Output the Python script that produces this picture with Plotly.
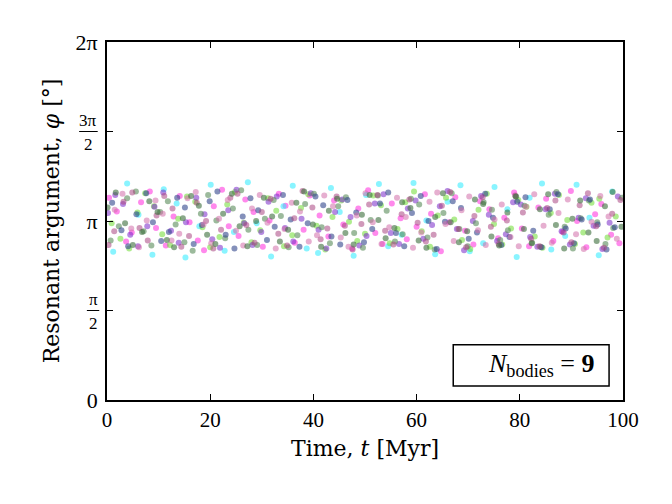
import math
import plotly.graph_objects as go

PI = math.pi

# ---- data (phi in radians, t in Myr), one series per body ----
t1 = [0.4, 1.9, 3.7, 4.8, 6.6, 8.3, 9.5, 11.4, 12.9, 14.1, 16.0, 17.6, 18.8, 20.7, 22.3, 23.6, 25.5, 26.8, 28.4, 30.2,
      31.5, 33.3, 34.6, 36.4, 38.1, 39.3, 41.2, 42.9, 44.0, 45.8, 47.5, 48.7, 50.6, 52.0, 53.4, 55.2, 56.9, 58.1, 60.0, 61.6,
      62.8, 64.7, 66.3, 67.5, 69.4, 71.0, 72.3, 74.1, 75.8, 77.0, 78.9, 80.4, 81.8, 83.6, 85.1, 86.5, 88.3, 89.9, 91.1, 92.9,
      94.6, 95.8, 97.7, 99.3]
phi1 = [3.55, 3.31, 2.78, 2.94, 3.47, 3.66, 3.02, 2.71, 3.22, 3.58, 3.12, 2.80, 2.63, 3.40, 3.69, 3.05, 2.88, 3.52, 3.30, 2.69,
        3.15, 3.62, 3.41, 2.76, 2.99, 3.59, 3.24, 2.87, 3.50, 3.08, 2.66, 3.36, 3.68, 2.93, 2.74, 3.45, 3.19, 2.82, 3.04, 3.61,
        3.27, 2.61, 3.12, 3.56, 2.97, 2.73, 3.49, 3.35, 2.84, 3.20, 3.64, 3.01, 2.70, 3.38, 3.53, 2.79, 2.95, 3.67, 3.14, 2.68,
        3.26, 3.44, 2.90, 2.75]

t2 = [1.2, 3.9, 6.1, 8.8, 11.0, 13.5, 15.2, 17.9, 20.1, 22.8, 24.6, 27.3, 29.0, 31.8, 34.2, 36.0, 38.7, 40.9, 43.4, 45.1,
      47.8, 50.2, 52.7, 54.5, 57.1, 59.4, 61.9, 63.6, 66.0, 68.5, 70.3, 72.9, 75.1, 77.6, 79.4, 81.9, 84.3, 86.1, 88.8, 91.0,
      93.5, 95.3, 97.9]
phi2 = [2.60, 3.80, 3.25, 2.55, 3.70, 3.45, 2.50, 3.05, 3.78, 2.62, 2.95, 3.82, 3.10, 2.52, 3.40, 3.76, 2.66, 2.58, 3.72, 3.30,
        2.53, 3.60, 3.79, 2.70, 2.90, 3.81, 3.15, 2.56, 3.48, 3.77, 2.61, 2.75, 3.74, 3.35, 2.51, 3.55, 3.80, 2.64, 2.88, 3.78,
        3.20, 2.54, 3.66]

t3 = [0.9, 2.6, 4.3, 5.9, 7.4, 9.1, 10.7, 12.2, 13.8, 15.5, 17.1, 18.5, 20.0, 21.8, 23.3, 24.8, 26.5, 28.0, 29.7, 31.2,
      32.8, 34.3, 35.9, 37.6, 39.0, 40.6, 42.3, 43.7, 45.4, 46.9, 48.5, 50.0, 51.6, 53.1, 54.8, 56.3, 57.8, 59.5, 61.0, 62.6,
      64.1, 65.7, 67.3, 68.8, 70.4, 72.0, 73.6, 75.0, 76.6, 78.3, 79.7, 81.3, 82.9, 84.4, 86.0, 87.6, 89.2, 90.7, 92.3, 93.9,
      95.4, 97.0, 98.6]
phi3 = [3.10, 2.83, 2.66, 3.29, 3.63, 3.40, 2.91, 2.72, 3.18, 3.57, 3.48, 3.03, 2.68, 2.86, 3.43, 3.65, 3.11, 2.77, 2.98, 3.54,
        3.32, 2.70, 2.89, 3.37, 3.61, 3.06, 2.64, 3.21, 3.50, 3.13, 2.79, 2.92, 3.59, 3.42, 2.75, 3.00, 3.47, 3.66, 2.96, 2.69,
        3.24, 3.55, 3.17, 2.81, 2.65, 3.34, 3.62, 3.09, 2.73, 3.01, 3.51, 3.39, 2.87, 2.67, 3.28, 3.60, 3.16, 2.74, 2.94, 3.46,
        3.53, 2.85, 3.22]

t4 = [0.2, 1.6, 3.1, 4.5, 6.0, 7.8, 9.2, 10.9, 12.4, 13.9, 15.3, 17.3, 18.9, 20.4, 21.9, 23.5, 25.1, 26.6, 28.2, 29.9,
      31.3, 32.9, 34.5, 36.1, 37.7, 39.5, 41.0, 42.5, 44.2, 45.6, 47.2, 48.9, 50.3, 51.9, 53.6, 55.0, 56.6, 58.3, 59.8, 61.3,
      63.0, 64.5, 66.0, 67.8, 69.2, 70.9, 72.5, 74.0, 75.6, 77.3, 78.7, 80.2, 82.0, 83.4, 85.0, 86.8, 88.1, 89.7, 91.4, 92.8,
      94.3, 96.0, 97.4, 99.0]
phi4 = [3.28, 3.60, 3.44, 2.90, 2.70, 3.05, 3.39, 3.64, 2.97, 2.76, 3.12, 3.55, 3.26, 2.82, 2.67, 3.33, 3.69, 3.10, 2.72, 2.95,
        3.48, 3.57, 3.02, 2.78, 3.18, 3.63, 2.99, 2.66, 3.30, 3.52, 3.21, 2.71, 2.88, 3.45, 3.61, 2.93, 2.74, 3.36, 3.50, 2.83,
        3.07, 3.40, 3.67, 3.00, 2.63, 3.14, 3.58, 3.25, 2.79, 2.91, 3.47, 3.43, 2.86, 2.69, 3.35, 3.62, 2.96, 2.73, 3.20, 3.54,
        3.06, 2.65, 3.11, 3.57]

t5 = [0.7, 2.3, 3.9, 5.6, 7.1, 8.6, 10.3, 11.8, 13.3, 15.0, 16.6, 18.2, 19.6, 21.2, 22.9, 24.4, 26.0, 27.4, 29.1, 30.6,
      32.3, 33.7, 35.2, 36.9, 38.4, 40.1, 41.6, 43.2, 44.8, 46.3, 47.9, 49.6, 51.1, 52.5, 54.2, 55.8, 57.3, 58.9, 60.5, 62.1,
      63.5, 65.2, 66.8, 68.3, 69.9, 71.5, 73.0, 74.6, 76.2, 77.7, 79.3, 80.9, 82.4, 84.0, 85.6, 87.1, 88.7, 90.3, 91.8, 93.4,
      95.0, 96.6, 98.1, 99.8]
phi5 = [2.80, 3.05, 3.54, 3.66, 2.96, 2.71, 3.30, 3.49, 3.08, 2.77, 2.62, 3.27, 3.60, 3.15, 2.84, 3.36, 3.68, 2.99, 2.72, 3.18,
        3.51, 3.23, 2.68, 2.89, 3.44, 3.62, 3.03, 2.75, 3.40, 3.56, 2.93, 2.67, 3.16, 3.59, 3.32, 2.78, 2.91, 3.53, 3.43, 2.85,
        2.64, 3.28, 3.63, 3.00, 2.70, 3.10, 3.47, 3.34, 2.81, 2.98, 3.57, 3.41, 2.76, 2.69, 3.25, 3.65, 3.04, 2.66, 3.19, 3.50,
        3.12, 2.74, 3.02, 3.55]

t6 = [1.0, 2.8, 4.1, 5.7, 7.6, 8.9, 10.5, 12.0, 13.6, 15.1, 16.8, 18.4, 19.9, 21.4, 23.0, 24.7, 26.3, 27.8, 29.3, 31.0,
      32.5, 34.1, 35.6, 37.3, 38.9, 40.4, 41.9, 43.5, 45.2, 46.6, 48.3, 49.8, 51.4, 52.9, 54.5, 56.0, 57.6, 59.1, 60.8, 62.3,
      63.9, 65.5, 67.0, 68.6, 70.1, 71.7, 73.3, 74.8, 76.4, 78.0, 79.5, 81.1, 82.6, 84.2, 85.8, 87.4, 88.9, 90.5, 92.0, 93.6,
      95.1, 96.8, 98.4]
phi6 = [3.46, 2.98, 2.70, 3.26, 3.63, 3.12, 2.79, 2.95, 3.55, 3.38, 2.74, 3.07, 3.49, 3.66, 2.90, 2.66, 3.22, 3.54, 3.33, 2.81,
        3.04, 3.60, 3.17, 2.69, 3.10, 3.57, 3.42, 2.87, 2.73, 3.51, 3.29, 2.77, 3.00, 3.45, 3.64, 2.93, 2.70, 3.28, 3.58, 3.14,
        2.65, 3.13, 3.49, 3.37, 2.83, 2.94, 3.62, 3.20, 2.72, 2.86, 3.48, 3.56, 2.97, 2.68, 3.35, 3.61, 3.01, 2.75, 3.17, 3.52,
        3.08, 2.64, 3.03]

t7 = [0.3, 1.4, 3.2, 4.9, 6.3, 7.9, 9.6, 11.1, 12.7, 14.4, 15.9, 17.4, 19.2, 20.6, 22.1, 23.9, 25.3, 27.0, 28.6, 30.0,
      31.7, 33.2, 34.9, 36.3, 37.9, 39.8, 41.4, 42.7, 44.5, 46.1, 47.6, 49.3, 50.8, 52.4, 53.9, 55.5, 57.1, 58.6, 60.2, 61.8,
      63.3, 64.9, 66.5, 68.1, 69.6, 71.2, 72.8, 74.4, 75.9, 77.5, 79.1, 80.6, 82.2, 83.8, 85.3, 86.9, 88.5, 90.0, 91.6, 93.2,
      94.8, 96.3, 97.9, 99.5]
phi7 = [2.72, 2.96, 3.48, 3.64, 3.02, 2.80, 3.24, 3.58, 3.36, 2.69, 2.88, 3.46, 3.14, 2.66, 2.99, 3.55, 3.62, 3.07, 2.76, 3.30,
        3.53, 2.92, 2.71, 3.19, 3.67, 3.38, 2.82, 3.01, 3.57, 3.06, 2.64, 3.09, 3.43, 3.60, 2.97, 2.73, 3.26, 3.52, 3.11, 2.78,
        2.90, 3.41, 3.65, 3.00, 2.68, 3.23, 3.56, 3.04, 2.74, 3.15, 3.59, 3.29, 2.83, 2.70, 3.37, 3.50, 2.94, 2.77, 3.42, 3.63,
        3.05, 2.67, 3.27, 3.51]

t8 = [1.5, 3.0, 4.7, 6.2, 7.7, 9.4, 10.8, 12.5, 14.0, 15.6, 17.2, 18.7, 20.2, 21.7, 23.4, 25.0, 26.4, 28.1, 29.6, 31.1,
      32.7, 34.4, 35.8, 37.4, 39.1, 40.7, 42.1, 43.8, 45.3, 46.8, 48.4, 50.1, 51.5, 53.2, 54.7, 56.2, 57.9, 59.3, 60.9, 62.5,
      64.0, 65.6, 67.2, 68.7, 70.2, 71.9, 73.4, 75.1, 76.5, 78.2, 79.8, 81.2, 82.8, 84.6, 86.2, 87.5, 89.3, 90.9, 92.4, 93.9,
      95.6, 97.2, 98.8]
phi8 = [3.34, 3.62, 3.01, 2.68, 3.15, 3.50, 3.27, 2.80, 2.92, 3.54, 3.65, 3.08, 2.75, 3.18, 3.51, 2.97, 2.71, 3.36, 3.60, 3.11,
        2.66, 3.00, 3.46, 3.31, 2.78, 2.89, 3.59, 3.40, 2.85, 2.69, 3.24, 3.63, 3.12, 2.74, 3.03, 3.55, 3.21, 2.67, 2.94, 3.48,
        3.64, 3.09, 2.79, 3.33, 3.57, 2.98, 2.72, 3.17, 3.43, 2.86, 2.70, 3.39, 3.61, 3.06, 2.76, 3.28, 3.52, 2.91, 2.65, 3.13,
        3.58, 3.22, 2.83]

t9 = [0.1, 1.7, 3.5, 5.0, 6.8, 8.2, 9.8, 11.6, 13.0, 14.7, 16.3, 17.8, 19.4, 21.0, 22.5, 24.2, 25.7, 27.2, 28.9, 30.4,
      32.0, 33.5, 35.1, 36.7, 38.2, 39.9, 41.5, 43.0, 44.6, 46.2, 47.8, 49.4, 50.9, 52.6, 54.0, 55.7, 57.2, 58.8, 60.4, 61.9,
      63.6, 65.1, 66.6, 68.2, 69.8, 71.3, 72.9, 74.5, 76.0, 77.6, 79.2, 80.8, 82.3, 83.9, 85.5, 87.0, 88.6, 90.2, 91.7, 93.3,
      94.9, 96.5, 98.0, 99.7]
phi9 = [3.38, 3.64, 3.10, 2.72, 2.95, 3.49, 3.30, 2.81, 2.68, 3.19, 3.58, 3.41, 2.90, 2.74, 3.27, 3.62, 3.05, 2.70, 3.14, 3.55,
        3.22, 2.78, 2.99, 3.46, 3.66, 3.08, 2.69, 3.32, 3.53, 2.93, 2.73, 3.25, 3.60, 3.16, 2.84, 3.02, 3.47, 3.37, 2.80, 2.67,
        3.21, 3.63, 3.12, 2.77, 2.96, 3.52, 3.44, 2.87, 2.71, 3.29, 3.57, 3.00, 2.75, 3.35, 3.61, 3.07, 2.66, 3.18, 3.50, 2.94,
        2.79, 3.40, 3.65, 3.04]

series_t = [t1, t2, t3, t4, t5, t6, t7, t8, t9]
series_phi = [phi1, phi2, phi3, phi4, phi5, phi6, phi7, phi8, phi9]
series_colors = ["rgba(255,40,220,0.55)", "rgba(40,235,255,0.55)", "rgba(110,220,50,0.55)",
                 "rgba(120,40,200,0.55)", "rgba(90,140,90,0.6)", "rgba(50,70,140,0.6)",
                 "rgba(170,70,130,0.55)", "rgba(210,110,170,0.55)", "rgba(60,110,60,0.6)"]

# y ticks: whole-multiple labels as tick text, half-multiples drawn as stacked fractions
y_major_vals = [0, PI, 2 * PI]
y_major_text = ["0", "π", "2π"]
y_frac_vals = [PI / 2, 3 * PI / 2]
y_frac_num = ["π", "3π"]
y_frac_den = ["2", "2"]
x_tickvals = [0, 20, 40, 60, 80, 100]
n_bodies = 9

FONT = "Liberation Serif"
TITLE_FONT = "DejaVu Serif"

fig = go.Figure()
for t, phi, c in zip(series_t, series_phi, series_colors):
    n = min(len(t), len(phi))
    fig.add_trace(go.Scatter(x=t[:n], y=phi[:n], mode="markers",
                             marker=dict(size=6, color=c, line=dict(width=0)),
                             showlegend=False, hoverinfo="skip"))

axis_common = dict(showline=True, linecolor="black", linewidth=1.8, mirror="ticks",
                   ticks="inside", ticklen=6, tickwidth=1, tickcolor="black",
                   showgrid=False, zeroline=False)

fig.update_xaxes(range=[0, 100], tickvals=x_tickvals,
                 tickfont=dict(family=FONT, size=21, color="black"),
                 title=dict(text="Time, <i>t</i> [Myr]", font=dict(family=TITLE_FONT, size=22, color="black"),
                            standoff=10),
                 **axis_common)
fig.update_yaxes(range=[0, 2 * PI], tickvals=y_major_vals, ticktext=y_major_text,
                 tickfont=dict(family=FONT, size=22, color="black"), ticklabelstandoff=3,
                 minor=dict(tickvals=y_frac_vals, ticks="inside", ticklen=6, tickwidth=1, tickcolor="black",
                            showgrid=False),
                 title=dict(text="Resonant argument, <i>φ</i> [°]", font=dict(family=TITLE_FONT, size=22, color="black"),
                            standoff=10),
                 **axis_common)

# stacked fraction labels
for yv, num, den in zip(y_frac_vals, y_frac_num, y_frac_den):
    xc = -0.036 if len(num) > 1 else -0.027
    half = 0.018 if len(num) > 1 else 0.012
    fig.add_annotation(xref="paper", yref="y", x=xc, y=yv, text=num, showarrow=False,
                       xanchor="center", yanchor="bottom", yshift=0,
                       font=dict(family=FONT, size=17, color="black"))
    fig.add_annotation(xref="paper", yref="y", x=xc, y=yv, text=den, showarrow=False,
                       xanchor="center", yanchor="top", yshift=-1,
                       font=dict(family=FONT, size=17, color="black"))
    fig.add_shape(type="line", xref="paper", yref="y", x0=xc - half, x1=xc + half, y0=yv, y1=yv,
                  line=dict(color="black", width=1))

fig.add_shape(type="rect", xref="paper", yref="paper", x0=0.671, x1=0.973, y0=0.039, y1=0.154,
              line=dict(color="black", width=1.5), fillcolor="white", layer="above")
fig.add_annotation(xref="paper", yref="paper", x=0.843, y=0.098, xanchor="center", yanchor="middle",
                   text="<i>N</i><sub>bodies</sub> = <b>%d</b>" % n_bodies, showarrow=False,
                   font=dict(family=FONT, size=26, color="black"))

fig.update_layout(width=672, height=504, margin=dict(l=107, r=49, t=42, b=104),
                  plot_bgcolor="white", paper_bgcolor="white", font=dict(family=FONT, color="black"))

fig.write_html("out.html")
